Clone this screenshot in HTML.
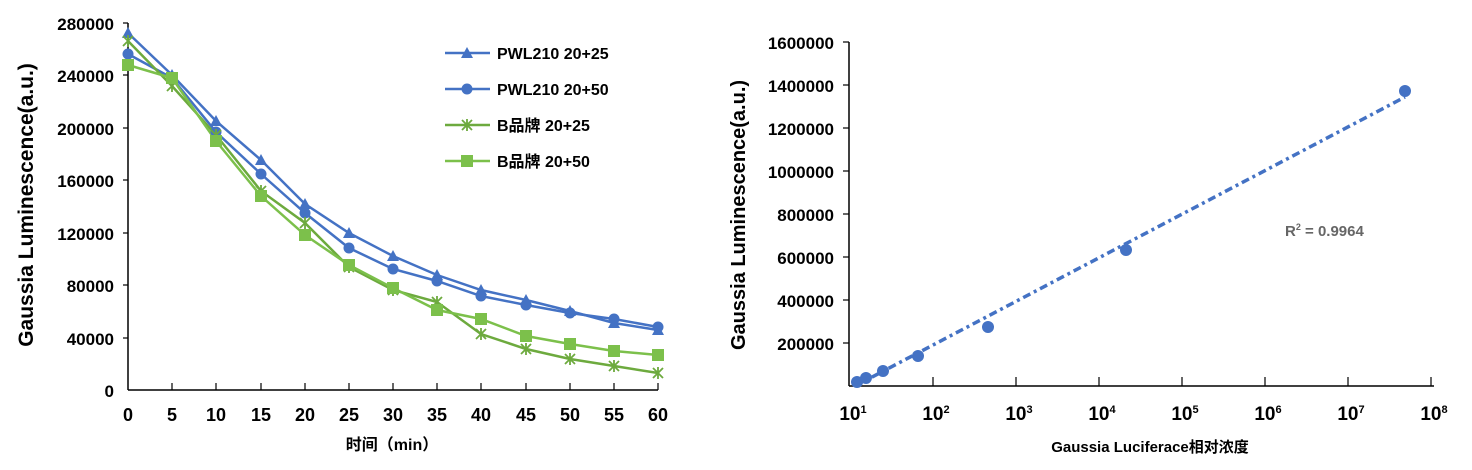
<!DOCTYPE html>
<html><head><meta charset="utf-8"><style>
html,body{margin:0;padding:0;background:#fff}
svg{display:block}
text{font-family:"Liberation Sans","Noto Sans CJK SC",sans-serif;fill:#000}
</style></head><body>
<svg width="1472" height="470" viewBox="0 0 1472 470" xmlns="http://www.w3.org/2000/svg">
<defs>
<polygon id="tri" points="0,-6 6,5 -6,5"/>
</defs>
<!-- LEFT CHART -->
<g stroke="#000" stroke-width="1.5" fill="none">
<line x1="128" y1="23" x2="128" y2="390"/>
<line x1="128" y1="390" x2="658" y2="390"/>
</g>
<g stroke="#000" stroke-width="1.2">
<line x1="123" y1="23" x2="128" y2="23"/><line x1="123" y1="75" x2="128" y2="75"/><line x1="123" y1="128" x2="128" y2="128"/><line x1="123" y1="180" x2="128" y2="180"/><line x1="123" y1="233" x2="128" y2="233"/><line x1="123" y1="285" x2="128" y2="285"/><line x1="123" y1="338" x2="128" y2="338"/>
<line x1="172" y1="383" x2="172" y2="390"/><line x1="216" y1="383" x2="216" y2="390"/><line x1="261" y1="383" x2="261" y2="390"/><line x1="305" y1="383" x2="305" y2="390"/><line x1="349" y1="383" x2="349" y2="390"/><line x1="393" y1="383" x2="393" y2="390"/><line x1="437" y1="383" x2="437" y2="390"/><line x1="481" y1="383" x2="481" y2="390"/><line x1="526" y1="383" x2="526" y2="390"/><line x1="570" y1="383" x2="570" y2="390"/><line x1="614" y1="383" x2="614" y2="390"/><line x1="658" y1="383" x2="658" y2="390"/>
</g>
<g font-size="17" font-weight="bold" text-anchor="end">
<text x="114" y="30">280000</text><text x="114" y="82">240000</text><text x="114" y="135">200000</text><text x="114" y="187">160000</text><text x="114" y="240">120000</text><text x="114" y="292">80000</text><text x="114" y="345">40000</text><text x="114" y="397">0</text>
</g>
<g font-size="18" font-weight="bold" text-anchor="middle">
<text x="128" y="421">0</text><text x="172" y="421">5</text><text x="216" y="421">10</text><text x="261" y="421">15</text><text x="305" y="421">20</text><text x="349" y="421">25</text><text x="393" y="421">30</text><text x="437" y="421">35</text><text x="481" y="421">40</text><text x="526" y="421">45</text><text x="570" y="421">50</text><text x="614" y="421">55</text><text x="658" y="421">60</text>
</g>
<text x="392" y="450" font-size="16" font-weight="bold" text-anchor="middle">时间（min）</text>
<text transform="translate(33,205) rotate(-90)" font-size="21" font-weight="bold" text-anchor="middle">Gaussia Luminescence(a.u.)</text>
<!-- series -->
<g fill="none" stroke-width="2.5">
<polyline stroke="#4472C4" points="128,33 172,75 216,121 261,160 305,204 349,233 393,256 437,275 481,290 526,300 570,311 614,323 658,330"/>
<polyline stroke="#4472C4" points="128,54 172,78 216,132 261,174 305,213 349,248 393,269 437,281 481,296 526,305 570,313 614,319 658,327"/>
<polyline stroke="#6DAA3E" points="128,41 172,86 216,135 261,191 305,223 349,267 393,290 437,302 481,334 526,349 570,359 614,366 658,373"/>
<polyline stroke="#7CC04B" points="128,65 172,78 216,141 261,196 305,235 349,265 393,288 437,310 481,319 526,336 570,344 614,351 658,355"/>
</g>
<g fill="#4472C4">
<use href="#tri" x="128" y="33"/><use href="#tri" x="172" y="75"/><use href="#tri" x="216" y="121"/><use href="#tri" x="261" y="160"/><use href="#tri" x="305" y="204"/><use href="#tri" x="349" y="233"/><use href="#tri" x="393" y="256"/><use href="#tri" x="437" y="275"/><use href="#tri" x="481" y="290"/><use href="#tri" x="526" y="300"/><use href="#tri" x="570" y="311"/><use href="#tri" x="614" y="323"/><use href="#tri" x="658" y="330"/>
<circle cx="128" cy="54" r="5.5"/><circle cx="172" cy="78" r="5.5"/><circle cx="216" cy="132" r="5.5"/><circle cx="261" cy="174" r="5.5"/><circle cx="305" cy="213" r="5.5"/><circle cx="349" cy="248" r="5.5"/><circle cx="393" cy="269" r="5.5"/><circle cx="437" cy="281" r="5.5"/><circle cx="481" cy="296" r="5.5"/><circle cx="526" cy="305" r="5.5"/><circle cx="570" cy="313" r="5.5"/><circle cx="614" cy="319" r="5.5"/><circle cx="658" cy="327" r="5.5"/>
</g>
<g stroke="#6DAA3E" stroke-width="1.8">
<path d="M123,36l10,10M133,36l-10,10M128,35v12 M167,81l10,10M177,81l-10,10M172,80v12 M211,130l10,10M221,130l-10,10M216,129v12 M256,186l10,10M266,186l-10,10M261,185v12 M300,218l10,10M310,218l-10,10M305,217v12 M344,262l10,10M354,262l-10,10M349,261v12 M388,285l10,10M398,285l-10,10M393,284v12 M432,297l10,10M442,297l-10,10M437,296v12 M476,329l10,10M486,329l-10,10M481,328v12 M521,344l10,10M531,344l-10,10M526,343v12 M565,354l10,10M575,354l-10,10M570,353v12 M609,361l10,10M619,361l-10,10M614,360v12 M653,368l10,10M663,368l-10,10M658,367v12"/>
</g>
<g fill="#7CC04B">
<rect x="122" y="59" width="12" height="12"/><rect x="166" y="72" width="12" height="12"/><rect x="210" y="135" width="12" height="12"/><rect x="255" y="190" width="12" height="12"/><rect x="299" y="229" width="12" height="12"/><rect x="343" y="259" width="12" height="12"/><rect x="387" y="282" width="12" height="12"/><rect x="431" y="304" width="12" height="12"/><rect x="475" y="313" width="12" height="12"/><rect x="520" y="330" width="12" height="12"/><rect x="564" y="338" width="12" height="12"/><rect x="608" y="345" width="12" height="12"/><rect x="652" y="349" width="12" height="12"/>
</g>
<!-- legend -->
<g stroke-width="2.5">
<line x1="445" y1="53" x2="490" y2="53" stroke="#4472C4"/>
<line x1="445" y1="89" x2="490" y2="89" stroke="#4472C4"/>
<line x1="445" y1="125" x2="490" y2="125" stroke="#6DAA3E"/>
<line x1="445" y1="161" x2="490" y2="161" stroke="#7CC04B"/>
</g>
<use href="#tri" x="467" y="53" fill="#4472C4"/>
<circle cx="467" cy="89" r="5.5" fill="#4472C4"/>
<path d="M462,120l10,10M472,120l-10,10M467,119v12" stroke="#6DAA3E" stroke-width="1.8"/>
<rect x="461" y="155" width="12" height="12" fill="#7CC04B"/>
<g font-size="16" font-weight="bold">
<text x="497" y="59">PWL210 20+25</text>
<text x="497" y="95">PWL210 20+50</text>
<text x="497" y="131">B品牌 20+25</text>
<text x="497" y="167">B品牌 20+50</text>
</g>

<!-- RIGHT CHART -->
<g stroke="#000" stroke-width="1.5" fill="none">
<line x1="849" y1="42" x2="849" y2="386"/>
<line x1="849" y1="386" x2="1434" y2="386"/>
</g>
<g stroke="#000" stroke-width="1.2">
<line x1="843" y1="42" x2="849" y2="42"/><line x1="843" y1="85" x2="849" y2="85"/><line x1="843" y1="128" x2="849" y2="128"/><line x1="843" y1="171" x2="849" y2="171"/><line x1="843" y1="214" x2="849" y2="214"/><line x1="843" y1="257" x2="849" y2="257"/><line x1="843" y1="300" x2="849" y2="300"/><line x1="843" y1="343" x2="849" y2="343"/>
<line x1="933" y1="377" x2="933" y2="386"/><line x1="1016" y1="377" x2="1016" y2="386"/><line x1="1099" y1="377" x2="1099" y2="386"/><line x1="1182" y1="377" x2="1182" y2="386"/><line x1="1265" y1="377" x2="1265" y2="386"/><line x1="1348" y1="377" x2="1348" y2="386"/><line x1="1431" y1="377" x2="1431" y2="386"/>
</g>
<g font-size="17" font-weight="bold" text-anchor="end">
<text x="834" y="49">1600000</text><text x="834" y="92">1400000</text><text x="834" y="135">1200000</text><text x="834" y="178">1000000</text><text x="834" y="221">800000</text><text x="834" y="264">600000</text><text x="834" y="307">400000</text><text x="834" y="350">200000</text>
</g>
<g font-size="19" font-weight="bold" text-anchor="middle">
<text x="853" y="420">10<tspan font-size="11" dy="-7">1</tspan></text>
<text x="936" y="420">10<tspan font-size="11" dy="-7">2</tspan></text>
<text x="1019" y="420">10<tspan font-size="11" dy="-7">3</tspan></text>
<text x="1102" y="420">10<tspan font-size="11" dy="-7">4</tspan></text>
<text x="1185" y="420">10<tspan font-size="11" dy="-7">5</tspan></text>
<text x="1268" y="420">10<tspan font-size="11" dy="-7">6</tspan></text>
<text x="1351" y="420">10<tspan font-size="11" dy="-7">7</tspan></text>
<text x="1434" y="420">10<tspan font-size="11" dy="-7">8</tspan></text>
</g>
<text x="1150" y="452" font-size="15" font-weight="bold" text-anchor="middle">Gaussia Luciferace相对浓度</text>
<text transform="translate(745,215) rotate(-90)" font-size="20" font-weight="bold" text-anchor="middle">Gaussia Luminescence(a.u.)</text>
<line x1="855" y1="386" x2="1405" y2="97" stroke="#4472C4" stroke-width="3.5" stroke-dasharray="8,4,3,4"/>
<g fill="#4472C4">
<circle cx="857" cy="382" r="6"/><circle cx="866" cy="378" r="6"/><circle cx="883" cy="371" r="6"/><circle cx="918" cy="356" r="6"/><circle cx="988" cy="327" r="6"/><circle cx="1126" cy="250" r="6"/><circle cx="1405" cy="91" r="6"/>
</g>
<text x="1285" y="236" font-size="15" font-weight="bold" style="fill:#666">R<tspan font-size="9" dy="-6">2</tspan><tspan dy="6"> = 0.9964</tspan></text>
</svg>
</body></html>
